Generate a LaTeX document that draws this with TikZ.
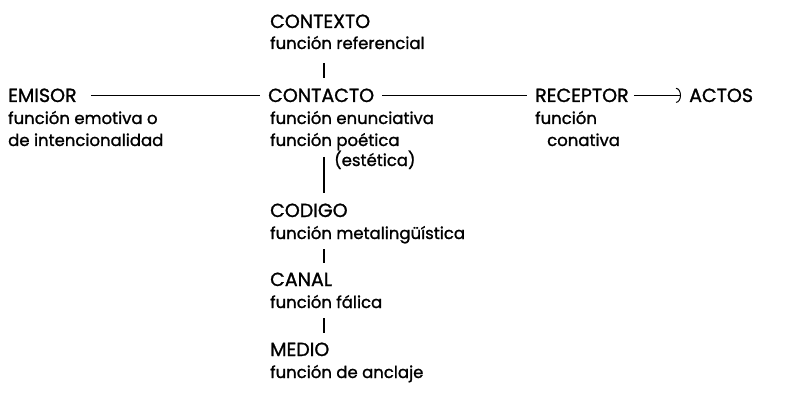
\documentclass[tikz,border=0pt]{standalone}
\usepackage{fontspec}
\setmainfont{Poppins}[FakeBold=1.2]
\usetikzlibrary{arrows.meta,calc}
\begin{document}
\begin{tikzpicture}[x=1pt,y=-1pt,
  lbl/.style={font=\fontsize{16.5}{19}\selectfont, inner sep=0pt, anchor=base west},
  capl/.style={font=\fontsize{19}{21}\selectfont, inner sep=0pt, anchor=base west},
  hline/.style={line width=1.6pt},
  vbar/.style={line width=2.8pt},
]
\useasboundingbox[fill=white] (0,0) rectangle (787,401);
\node[capl] (ctx) at (270,28) {CONTEXTO};
\node[lbl] (ctxf) at (270,49) {función referencial};
\node[capl] (emi) at (8,102) {EMISOR};
\node[lbl] (emif1) at (8,124) {función emotiva o};
\node[lbl] (emif2) at (8,146) {de intencionalidad};
\node[capl] (con) at (268,102) {CONTACTO};
\node[lbl] (conf1) at (270,124) {función enunciativa};
\node[lbl] (conf2) at (270,146) {función poética};
\node[lbl] (conf3) at (334,166) {(estética)};
\node[capl] (rec) at (535,102) {RECEPTOR};
\node[lbl] (recf1) at (535,124) {función};
\node[lbl] (recf2) at (547,146) {conativa};
\node[capl] (act) at (689,102) {ACTOS};
\node[capl] (cod) at (270,217) {CODIGO};
\node[lbl] (codf) at (270,239) {función metalingüística};
\node[capl] (can) at (270,286) {CANAL};
\node[lbl] (canf) at (270,308) {función fálica};
\node[capl] (med) at (270,356) {MEDIO};
\node[lbl] (medf) at (270,378) {función de anclaje};
\coordinate (bx) at (324,0);

\draw[hline] ([xshift=14pt]emi.east) -- ([xshift=-8pt]con.west);
\draw[hline] ([xshift=8pt]con.east) -- ([xshift=-8pt]rec.west);
\draw[hline,-{Arc Barb[length=5pt,width=15pt,line width=1pt]}] ([xshift=5pt]rec.east) -- ([xshift=-8pt]act.west);

\draw[vbar] ($(bx |- ctxf.base)+(0,14)$) -- ($(bx |- con.base)+(0,-24)$);
\draw[vbar] ($(bx |- conf2.base)+(0,11)$) -- ($(bx |- cod.base)+(0,-24)$);
\draw[vbar] ($(bx |- codf.base)+(0,10)$) -- ($(bx |- can.base)+(0,-23)$);
\draw[vbar] ($(bx |- canf.base)+(0,10)$) -- ($(bx |- med.base)+(0,-23)$);
\end{tikzpicture}
\end{document}
